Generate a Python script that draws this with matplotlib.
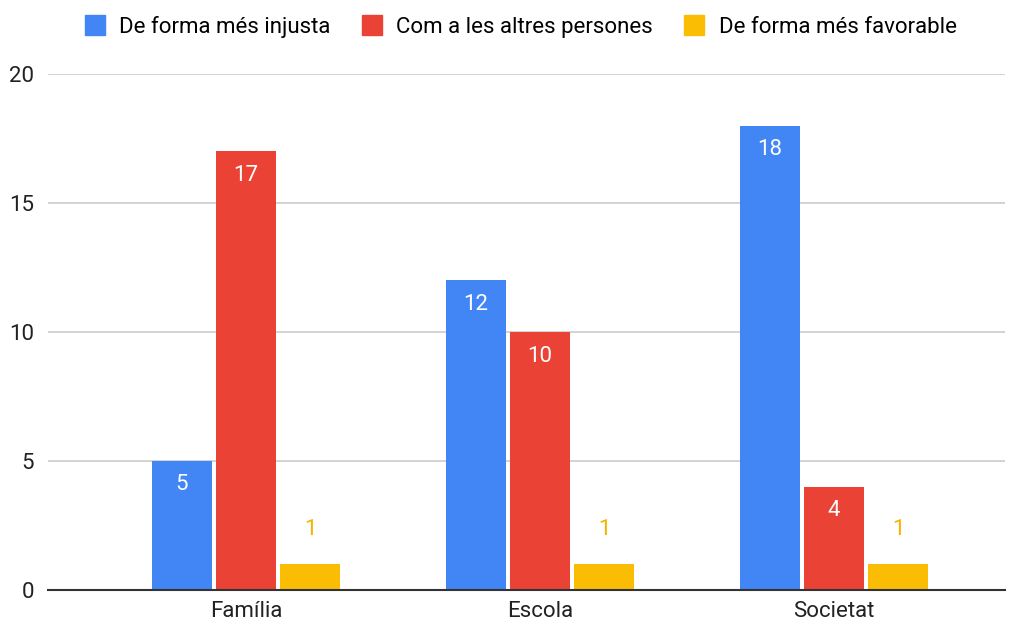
import matplotlib.pyplot as plt
from matplotlib.lines import Line2D

# data
categories = ["Família", "Escola", "Societat"]
series_names = ["De forma més injusta", "Com a les altres persones", "De forma més favorable"]
injusta = [5, 12, 18]
altres = [17, 10, 4]
favorable = [1, 1, 1]
y_ticks = [0, 5, 10, 15, 20]

colors = ["#4285f4", "#ea4335", "#fbbc04"]

plt.rcParams['font.family'] = ['Roboto', 'DejaVu Sans']
fs = 16

fig = plt.figure(figsize=(10.18, 6.24), dpi=100)
ax = fig.add_axes([48 / 1018, 1 - 590 / 624, (1005 - 48) / 1018, (590 - 74) / 624])

width = 0.204
offset = 0.218
x = list(range(len(categories)))

for k, (vals, col) in enumerate(zip([injusta, altres, favorable], colors)):
    xs = [xi + (k - 1) * offset for xi in x]
    bars = ax.bar(xs, vals, width=width, color=col, zorder=3)
    for b, v in zip(bars, vals):
        cx = b.get_x() + b.get_width() / 2
        if v >= 3:
            ax.annotate(str(v), (cx, v), xytext=(0, -24), textcoords="offset pixels",
                        ha="center", va="center", color="white", fontsize=fs, zorder=4)
        else:
            ax.annotate(str(v), (cx, v), xytext=(0, 35), textcoords="offset pixels",
                        ha="center", va="center", color="#f4b400", fontsize=fs, zorder=4)

ax.set_xlim(-0.673, 2.582)
ax.set_ylim(0, 20)
ax.set_yticks(y_ticks)
ax.set_xticks(x)
ax.set_xticklabels(categories)
ax.tick_params(axis="both", length=0, labelsize=fs, colors="#222222")
ax.tick_params(axis="y", pad=10)
ax.tick_params(axis="x", pad=8)
ax.grid(axis="y", color="#cccccc", linewidth=1.2, zorder=0)
for s in ["top", "right", "left"]:
    ax.spines[s].set_visible(False)
ax.spines["bottom"].set_color("#333333")
ax.spines["bottom"].set_linewidth(1.5)
ax.spines["bottom"].set_zorder(5)

handles = [Line2D([], [], marker="s", linestyle="", markersize=15, color=c) for c in colors]
fig.legend(handles, series_names, loc="center", bbox_to_anchor=(0.511, 1 - 27 / 624),
           ncol=3, frameon=False, fontsize=fs, handletextpad=0.6, columnspacing=1.35,
           handlelength=1.0)

fig.savefig("out.png", dpi=100, facecolor="white")
